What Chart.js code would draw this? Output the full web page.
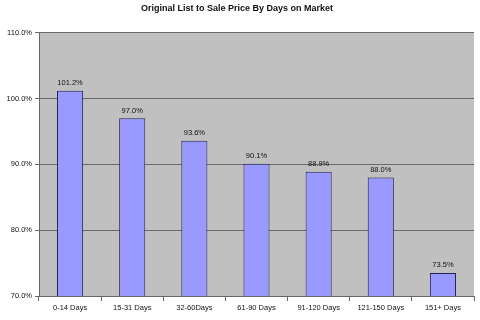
<!DOCTYPE html>
<html>
<head>
<meta charset="utf-8">
<script src="https://cdn.jsdelivr.net/npm/chart.js@4/dist/chart.umd.min.js"></script>
<style>
  html, body { margin: 0; padding: 0; background: #fff; }
  #wrap { width: 480px; height: 320px; }
</style>
</head>
<body>
<div id="wrap"><canvas id="myChart" width="480" height="320"></canvas></div>
<script>
const categories = ['0-14 Days', '15-31 Days', '32-60Days', '61-90 Days', '91-120 Days', '121-150 Days', '151+ Days'];
const ratios = [101.2, 97.0, 93.6, 90.1, 88.9, 88.0, 73.5];
const yTicks = [70, 80, 90, 100, 110];

const fontFamily = '"Liberation Sans", Arial, sans-serif';

// grey plot area behind the bars
const plotBg = {
  id: 'plotBg',
  beforeDraw(chart) {
    const a = chart.chartArea;
    const c = chart.ctx;
    c.save();
    c.fillStyle = '#c0c0c0';
    c.fillRect(a.left, a.top, a.right - a.left, a.bottom - a.top);
    c.restore();
  }
};

// percent labels on top of each bar
const barLabels = {
  id: 'barLabels',
  afterDatasetsDraw(chart) {
    const c = chart.ctx;
    const meta = chart.getDatasetMeta(0);
    c.save();
    c.font = '7.5px ' + fontFamily;
    c.fillStyle = '#111';
    c.textAlign = 'center';
    c.textBaseline = 'bottom';
    meta.data.forEach((bar, i) => {
      c.fillText(ratios[i].toFixed(1) + '%', bar.x, bar.y - 4);
    });
    c.restore();
  }
};

const ctx = document.getElementById('myChart').getContext('2d');
new Chart(ctx, {
  type: 'bar',
  data: {
    labels: categories,
    datasets: [{
      data: ratios,
      backgroundColor: '#9999ff',
      borderColor: '#222255',
      borderWidth: 1,
      barPercentage: 0.42,
      categoryPercentage: 1.0
    }]
  },
  options: {
    responsive: false,
    animation: false,
    layout: { padding: { left: 0, right: 6, top: 0, bottom: 3 } },
    plugins: {
      legend: { display: false },
      tooltip: { enabled: false },
      title: {
        display: true,
        text: 'Original List to Sale Price By Days on Market',
        color: '#111',
        font: { family: fontFamily, size: 9, weight: 'bold' },
        padding: { top: 3, bottom: 19 }
      }
    },
    scales: {
      x: {
        grid: {
          offset: true,
          drawOnChartArea: false,
          color: '#666',
          tickLength: 5
        },
        border: { color: '#666' },
        ticks: {
          color: '#111',
          font: { family: fontFamily, size: 7.5 },
          maxRotation: 0,
          padding: 2
        },
        afterFit(scale) { scale.height = 21; }
      },
      y: {
        min: 70,
        max: 110,
        afterBuildTicks(scale) { scale.ticks = yTicks.map(v => ({ value: v })); },
        grid: { color: '#6a6a6a', tickLength: 4 },
        border: { color: '#666' },
        ticks: {
          color: '#111',
          font: { family: fontFamily, size: 7.5 },
          padding: 3,
          callback: v => v.toFixed(1) + '%'
        },
        afterFit(scale) { scale.width = 39; }
      }
    }
  },
  plugins: [plotBg, barLabels]
});
</script>
</body>
</html>
